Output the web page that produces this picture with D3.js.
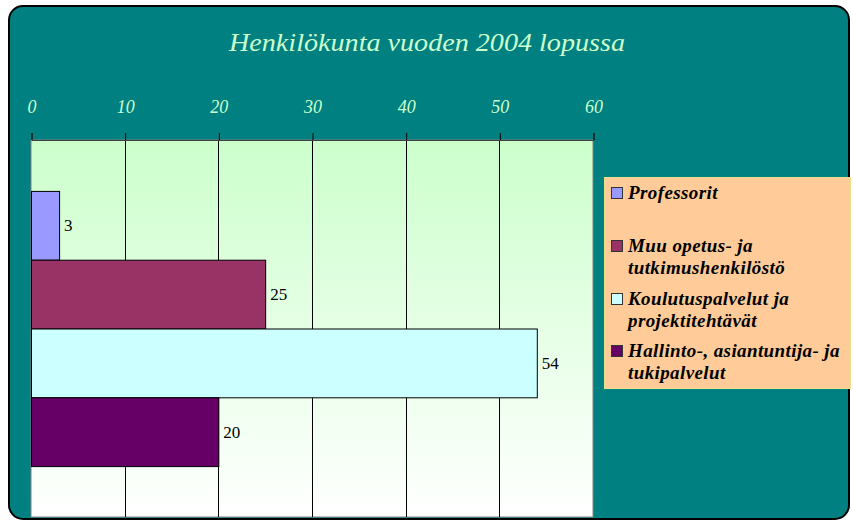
<!DOCTYPE html>
<html>
<head>
<meta charset="utf-8">
<script src="https://cdn.jsdelivr.net/npm/d3@7"></script>
<style>
  html, body { margin: 0; padding: 0; background: #ffffff; }
  svg { display: block; }
  .serif { font-family: "Palatino Linotype", "Book Antiqua", Palatino, "Liberation Serif", serif; }
</style>
</head>
<body>
<div id="chart"></div>
<script>
// chart data
const title = "Henkilökunta vuoden 2004 lopussa";
const categories = [
  "Professorit",
  "Muu opetus- ja tutkimushenkilöstö",
  "Koulutuspalvelut ja projektitehtävät",
  "Hallinto-, asiantuntija- ja tukipalvelut",
];
const values = [3, 25, 54, 20];
const colors = ["#9999FF", "#993366", "#CCFFFF", "#660066"];
// legend labels, wrapped as in the original
const legendLines = [
  ["Professorit"],
  ["Muu opetus- ja", "tutkimushenkilöstö"],
  ["Koulutuspalvelut ja", "projektitehtävät"],
  ["Hallinto-, asiantuntija- ja", "tukipalvelut"],
];
const tickValues = [0, 10, 20, 30, 40, 50, 60];

const width = 853;
const height = 520;

const svg = d3
  .select("#chart")
  .append("svg")
  .attr("width", width)
  .attr("height", height);

// gradient for the plot area
const defs = svg.append("defs");
const grad = defs
  .append("linearGradient")
  .attr("id", "plotGrad")
  .attr("x1", 0)
  .attr("y1", 0)
  .attr("x2", 0)
  .attr("y2", 1);
grad.append("stop").attr("offset", "0%").attr("stop-color", "#CCFFCC");
grad.append("stop").attr("offset", "100%").attr("stop-color", "#FFFFFF");

// outer frame
svg
  .append("rect")
  .attr("x", 9)
  .attr("y", 6)
  .attr("width", 840)
  .attr("height", 513)
  .attr("rx", 14)
  .attr("fill", "#008080")
  .attr("stroke", "black")
  .attr("stroke-width", 2);

// title (stretched a bit, the original face is wider)
svg
  .append("text")
  .attr("class", "serif")
  .attr("x", 427)
  .attr("y", 51)
  .attr("text-anchor", "middle")
  .attr("font-style", "italic")
  .attr("font-size", 26)
  .attr("textLength", 396)
  .attr("lengthAdjust", "spacingAndGlyphs")
  .attr("fill", "#CCFFCC")
  .text(title);

const plot = { left: 31, right: 593, top: 140, bottom: 517 };

const x = d3.scaleLinear().domain([0, 60]).range([plot.left, plot.right]);
const y = d3
  .scaleBand()
  .domain(categories)
  .range([plot.top, plot.bottom])
  .paddingInner(0)
  .paddingOuter(0.74);

// plot background
svg
  .append("rect")
  .attr("x", plot.left)
  .attr("y", plot.top)
  .attr("width", plot.right - plot.left)
  .attr("height", plot.bottom - plot.top)
  .attr("fill", "url(#plotGrad)")
  .attr("stroke", "#808080")
  .attr("stroke-width", 1);

// gridlines
svg
  .append("g")
  .selectAll("line")
  .data(tickValues.slice(1, -1))
  .join("line")
  .attr("x1", (d) => Math.round(x(d)) + 0.5)
  .attr("x2", (d) => Math.round(x(d)) + 0.5)
  .attr("y1", plot.top)
  .attr("y2", plot.bottom)
  .attr("stroke", "black");

// top axis
const axis = svg
  .append("g")
  .attr("transform", `translate(0.5,${plot.top})`)
  .call(d3.axisTop(x).tickValues(tickValues).tickSize(7).tickPadding(20));
axis.select(".domain").attr("stroke", "#404040");
axis.selectAll(".tick line").attr("stroke", "black");
axis
  .selectAll(".tick text")
  .attr("class", "serif")
  .attr("font-style", "italic")
  .attr("font-size", 18)
  .attr("fill", "#CCFFCC");

// bars
svg
  .append("g")
  .selectAll("rect")
  .data(values)
  .join("rect")
  .attr("x", x(0) + 0.5)
  .attr("y", (d, i) => y(categories[i]) + 0.5)
  .attr("width", (d) => x(d) - x(0))
  .attr("height", y.bandwidth())
  .attr("fill", (d, i) => colors[i])
  .attr("stroke", "black")
  .attr("stroke-width", 1);

// value labels
svg
  .append("g")
  .selectAll("text")
  .data(values)
  .join("text")
  .attr("class", "serif")
  .attr("x", (d) => x(d) + 5)
  .attr("y", (d, i) => y(categories[i]) + y.bandwidth() / 2 + 6)
  .attr("font-size", 17)
  .attr("fill", "black")
  .text((d) => d);

// legend box
svg
  .append("rect")
  .attr("x", 604.5)
  .attr("y", 177.5)
  .attr("width", 246)
  .attr("height", 211)
  .attr("fill", "#FFCC99")
  .attr("stroke", "#E8E08A")
  .attr("stroke-width", 1);

// legend items, first baseline of each
const legendBase = [199, 252, 305, 357];
const legend = svg
  .append("g")
  .selectAll("g")
  .data(categories)
  .join("g");

legend
  .append("rect")
  .attr("x", 611.5)
  .attr("y", (d, i) => legendBase[i] - 11.5)
  .attr("width", 11)
  .attr("height", 11)
  .attr("fill", (d, i) => colors[i])
  .attr("stroke", "#333333");

legend
  .append("text")
  .attr("class", "serif")
  .attr("font-style", "italic")
  .attr("font-weight", "bold")
  .attr("font-size", 19)
  .attr("letter-spacing", 0.4)
  .attr("fill", "black")
  .selectAll("tspan")
  .data((d, i) => legendLines[i].map((t) => ({ t, i })))
  .join("tspan")
  .attr("x", 628)
  .attr("y", (d, j) => legendBase[d.i] + j * 22)
  .text((d) => d.t);
</script>
</body>
</html>
